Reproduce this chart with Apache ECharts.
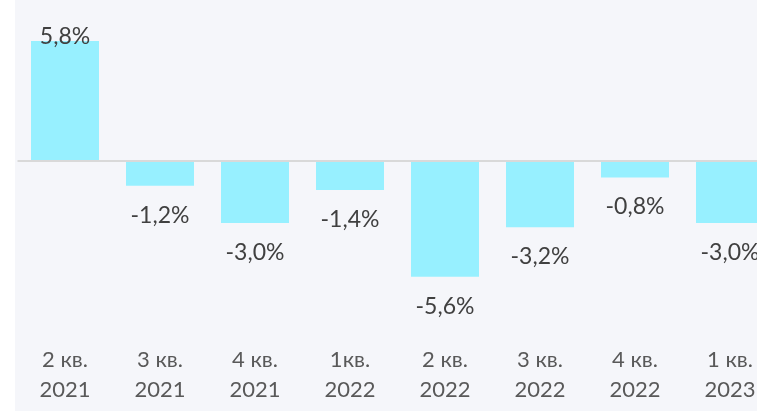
<!DOCTYPE html>
<html>
<head>
<meta charset="utf-8">
<script src="https://cdn.jsdelivr.net/npm/echarts@6/dist/echarts.min.js"></script>
<style>
	html, body { margin: 0; padding: 0; background: #fff; }
	#wrap {
		width: 757px;
		height: 411px;
		overflow: hidden;
		background: linear-gradient(to right, #fff 15px, #f5f6fa 15px);
	}
	#chart { width: 780px; height: 411px; }
</style>
</head>
<body>
<div id="wrap"><div id="chart"></div></div>
<script>
// quarters and growth, %
const quarters = ["2 кв.", "3 кв.", "4 кв.", "1кв.", "2 кв.", "3 кв.", "4 кв.", "1 кв."];
const years = ["2021", "2021", "2021", "2022", "2022", "2022", "2022", "2023"];
const values = [5.8, -1.2, -3.0, -1.4, -5.6, -3.2, -0.8, -3.0];

const categories = quarters.map((q, i) => q + "\n" + years[i]);

const fmt = v => String(v.toFixed(1)).replace(".", ",") + "%";

let myChart = echarts.init(document.querySelector("#chart"));
let option = {
	backgroundColor: "transparent",
	animation: false,
	textStyle: { fontFamily: "Lato" },
	grid: { left: 17.5, right: 2.5, top: 36.9, bottom: 125.9 },
	xAxis: {
		type: "category",
		data: categories,
		axisLine: { show: false },
		axisTick: { show: false },
		axisLabel: {
			margin: 60,
			color: "#595959",
			fontSize: 22,
			lineHeight: 30,
			fontFamily: "Lato"
		}
	},
	yAxis: {
		type: "value",
		min: -6,
		max: 6,
		show: false
	},
	series: [
		{
			type: "bar",
			barWidth: 68,
			itemStyle: { color: "#97f0ff" },
			data: values.map(v => ({
				value: v,
				label: v >= 0
					? { position: "top", distance: -7 }
					: { position: "bottom", distance: 18 }
			})),
			label: {
				show: true,
				color: "#404040",
				fontSize: 23,
				fontFamily: "Lato",
				formatter: p => fmt(p.value)
			},
			markLine: {
				silent: true,
				symbol: "none",
				label: { show: false },
				lineStyle: { color: "#d9d9d9", width: 2, type: "solid" },
				data: [{ yAxis: 0 }]
			}
		}
	]
};
myChart.setOption(option);
</script>
</body>
</html>
